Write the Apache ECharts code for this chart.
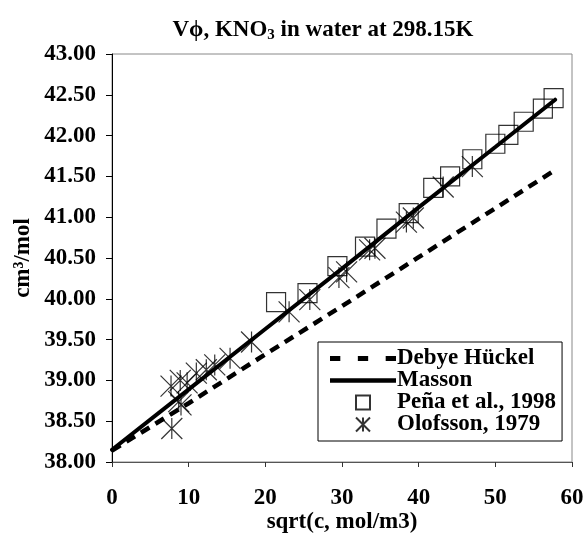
<!DOCTYPE html>
<html>
<head>
<meta charset="utf-8">
<script src="https://cdn.jsdelivr.net/npm/echarts@6/dist/echarts.min.js"></script>
<style>
  html, body { margin: 0; padding: 0; background: #fff; }
  #chart { width: 585px; height: 534px; }
</style>
</head>
<body>
<div id="chart"></div>
<script>
// Apparent molar volume of KNO3 in water at 298.15 K vs sqrt(c)
const debyeX = [0, 10, 20, 30, 40, 50, 57.5];
const debyeY = [38.14, 38.72, 39.32, 39.91, 40.51, 41.11, 41.56];

const massonX = [0, 10, 20, 30, 40, 50, 57.8];
const massonY = [38.15, 38.89, 39.63, 40.37, 41.12, 41.86, 42.44];

const penaX = [21.4, 25.5, 29.4, 33.0, 35.8, 38.7, 41.9, 44.1, 47.0, 50.0, 51.7, 53.7, 56.2, 57.6];
const penaY = [39.96, 40.07, 40.40, 40.64, 40.86, 41.05, 41.36, 41.50, 41.71, 41.90, 42.01, 42.17, 42.33, 42.46];

const olofX = [7.8, 8.7, 9.0, 7.7, 8.9, 9.8, 11.0, 12.3, 13.4, 15.4, 18.2, 23.1, 25.8, 29.6, 30.6, 33.6, 34.3, 38.4, 39.3, 43.2, 47.0];
const olofY = [38.41, 38.74, 38.70, 38.93, 39.00, 38.97, 39.09, 39.13, 39.19, 39.27, 39.47, 39.84, 39.99, 40.26, 40.33, 40.60, 40.62, 40.94, 40.99, 41.37, 41.62];

const xTicks = { min: 0, max: 60, step: 10 };
const yTicks = { min: 38, max: 43, step: 0.5 };

const names = ['Debye Hückel', 'Masson', 'Peña et al., 1998', 'Olofsson, 1979'];

const pairs = (xs, ys) => xs.map((x, i) => [x, ys[i]]);

const FONT = '"Liberation Serif", "Times New Roman", serif';
const FS = 23;

// marker shapes
const squarePath = 'path://M0,0H20V20H0Z';
const starPath = 'path://M10,0L10,20M0,0L20,20M0,20L20,0';
// legend swatches for the two curves
const dashIcon = 'path://M0,0H10V5H0Z M27,0H37V5H27Z M54,0H64V5H54Z';
const solidIcon = 'path://M0,0H64V4.5H0Z';

const chart = echarts.init(document.getElementById('chart'), null, { renderer: 'canvas' });

chart.setOption({
  backgroundColor: '#fff',
  animation: false,
  title: {
    text: '{n|Vϕ, KNO}{s|3}{n| in water at 298.15K}',
    left: 318,
    textAlign: 'center',
    top: 12,
    textStyle: {
      rich: {
        n: { fontFamily: FONT, fontWeight: 'bold', fontSize: FS, color: '#000', lineHeight: 26 },
        s: { fontFamily: FONT, fontWeight: 'bold', fontSize: 15, color: '#000', lineHeight: 26, verticalAlign: 'bottom', padding: [9, 0, 0, 0] }
      }
    }
  },
  grid: {
    left: 112, right: 13, top: 54, bottom: 72,
    outerBoundsMode: 'none',
    containLabel: false,
    show: true, borderColor: '#888', borderWidth: 1, backgroundColor: 'transparent'
  },
  legend: {
    orient: 'vertical',
    left: 318, top: 342,
    padding: [5, 6, 5, 12],
    itemGap: -1,
    itemWidth: 66,
    itemHeight: 14,
    symbolKeepAspect: true,
    backgroundColor: '#fff',
    borderColor: '#000',
    borderWidth: 1,
    borderRadius: 0,
    data: [
      { name: names[0], icon: dashIcon, itemStyle: { color: '#000', borderWidth: 0 } },
      { name: names[1], icon: solidIcon, itemStyle: { color: '#000', borderWidth: 0 } },
      { name: names[2], icon: squarePath },
      { name: names[3], icon: starPath }
    ],
    textStyle: { fontFamily: FONT, fontWeight: 'bold', fontSize: FS, color: '#000', padding: [0, 0, 0, -4] }
  },
  xAxis: {
    type: 'value',
    min: xTicks.min, max: xTicks.max, interval: xTicks.step,
    name: 'sqrt(c, mol/m3)',
    nameLocation: 'middle',
    nameGap: 49,
    nameMoveOverlap: false,
    nameTextStyle: { fontFamily: FONT, fontWeight: 'bold', fontSize: FS, color: '#000' },
    axisLine: { show: true, onZero: false, lineStyle: { color: '#555', width: 1 } },
    axisTick: { show: true, inside: false, length: 5, lineStyle: { color: '#333' } },
    axisLabel: { margin: 25, fontFamily: FONT, fontWeight: 'bold', fontSize: FS, color: '#000' },
    splitLine: { show: false }
  },
  yAxis: {
    type: 'value',
    min: yTicks.min, max: yTicks.max, interval: yTicks.step,
    name: 'cm³/mol',
    nameLocation: 'middle',
    nameRotate: 90,
    nameGap: 77,
    nameMoveOverlap: false,
    nameTextStyle: { fontFamily: FONT, fontWeight: 'bold', fontSize: FS, color: '#000' },
    axisLine: { show: true, onZero: false, lineStyle: { color: '#000', width: 1 } },
    axisTick: { show: true, inside: false, length: 6, lineStyle: { color: '#000' } },
    axisLabel: {
      margin: 16, fontFamily: FONT, fontWeight: 'bold', fontSize: FS, color: '#000',
      formatter: v => v.toFixed(2)
    },
    splitLine: { show: false }
  },
  series: [
    {
      name: names[0],
      type: 'line',
      data: pairs(debyeX, debyeY),
      showSymbol: false,
      symbol: 'none',
      lineStyle: { color: '#000', width: 4.5, type: [10, 7] },
      itemStyle: { color: '#000' },
      z: 2
    },
    {
      name: names[1],
      type: 'line',
      data: pairs(massonX, massonY),
      showSymbol: false,
      symbol: 'none',
      lineStyle: { color: '#000', width: 4, cap: 'round' },
      itemStyle: { color: '#000' },
      z: 3
    },
    {
      name: names[2],
      type: 'scatter',
      data: pairs(penaX, penaY),
      symbol: squarePath,
      symbolSize: 19,
      symbolKeepAspect: true,
      itemStyle: { color: 'rgba(0,0,0,0)', borderColor: '#000', borderWidth: 1.2 },
      z: 4
    },
    {
      name: names[3],
      type: 'scatter',
      data: pairs(olofX, olofY),
      symbol: starPath,
      symbolSize: 21,
      symbolKeepAspect: true,
      itemStyle: { color: 'rgba(0,0,0,0)', borderColor: '#000', borderWidth: 1.2 },
      z: 4
    }
  ]
});
</script>
</body>
</html>
